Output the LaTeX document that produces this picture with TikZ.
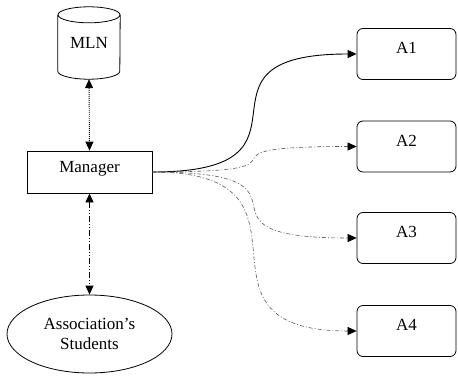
\documentclass[tikz,border=0pt]{standalone}
\usepackage{fontspec}
\setmainfont{Liberation Serif}
\usetikzlibrary{shapes.geometric,arrows.meta}
\begin{document}
\begin{tikzpicture}[x=1pt,y=-1pt,
  every node/.style={font=\fontsize{17}{20}\selectfont},
  abox/.style={draw, line width=0.8pt, rounded corners=6pt, minimum width=99pt, minimum height=51pt, text height=11.5pt, text depth=12.3pt},
  mbox/.style={draw, line width=0.8pt, minimum width=125pt, minimum height=42pt, text height=12pt, text depth=11pt},
  tipb/.style={{Triangle[length=9pt,width=8pt]}-{Triangle[length=9pt,width=8pt]}},
  tipe/.style={-{Triangle[length=9pt,width=8pt,color=black]}},
  dotline/.style={line width=0.9pt, dash pattern=on 1pt off 1pt},
  dddline/.style={line width=0.8pt, dash pattern=on 6pt off 2pt on 1pt off 2pt on 1pt off 2pt},
  gline/.style={line width=0.6pt, draw=black!65, dash pattern=on 4pt off 2pt on 1pt off 2pt},
  sline/.style={line width=0.9pt}]
\useasboundingbox (0,0) rectangle (458,375);
% MLN cylinder
\node[minimum width=62pt, minimum height=72pt, inner sep=0pt] (mln) at (89,43) {MLN};
\draw[line width=0.8pt] ([yshift=-8pt]mln.north west) -- ([yshift=8pt]mln.south west)
  arc[start angle=180, end angle=360, x radius=31pt, y radius=8pt]
  -- ([yshift=-8pt]mln.north east);
\draw[line width=0.8pt] ([yshift=-8pt]mln.north) ellipse[x radius=31pt, y radius=8pt];
% Manager
\node[mbox] (mgr) at (89.5,172) {Manager};
% Students
\node[ellipse, draw, line width=0.8pt, minimum width=165pt, minimum height=78pt, inner sep=0pt, align=center] (stu) at (89.5,334) {Association’s\\Students};
% A boxes
\node[abox] (a1) at (406.5,54) {A1};
\node[abox] (a2) at (406.5,146.5) {A2};
\node[abox] (a3) at (406.5,238) {A3};
\node[abox] (a4) at (406.5,331) {A4};
% connectors
\draw[dotline, tipb] (mln.south) -- (mgr.north);
\draw[dddline, tipb] (mgr.south) -- (stu.north);
\draw[sline, tipe] (mgr.east) .. controls +(185pt,0pt) and +(-185pt,0pt) .. (a1.west);
\draw[gline, tipe] (mgr.east) .. controls +(185pt,0pt) and +(-185pt,0pt) .. (a2.west);
\draw[gline, tipe] (mgr.east) .. controls +(185pt,0pt) and +(-185pt,0pt) .. (a3.west);
\draw[gline, tipe] (mgr.east) .. controls +(185pt,0pt) and +(-185pt,0pt) .. (a4.west);
\end{tikzpicture}
\end{document}
